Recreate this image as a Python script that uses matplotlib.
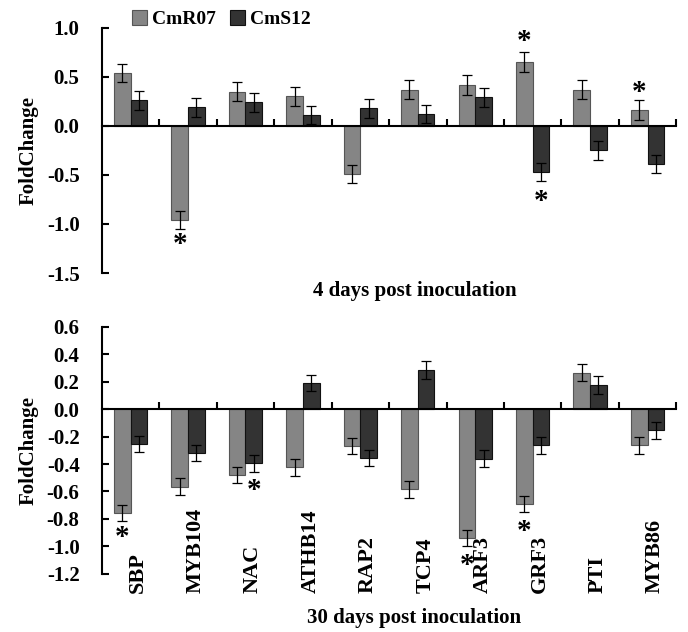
import matplotlib
matplotlib.use("Agg")
import matplotlib.pyplot as plt
import numpy as np

plt.rcParams["font.family"] = ["Liberation Serif", "DejaVu Serif"]
plt.rcParams["font.weight"] = "bold"
plt.rcParams["axes.unicode_minus"] = False

genes = ["SBP", "MYB104", "NAC", "ATHB14", "RAP2", "TCP4", "ARF3", "GRF3", "PTI", "MYB86"]

# 4 days post inoculation
r07_4d = [0.54, -0.96, 0.35, 0.30, -0.49, 0.37, 0.42, 0.65, 0.37, 0.165]
r07_4d_err = [0.095, 0.095, 0.10, 0.095, 0.095, 0.095, 0.10, 0.10, 0.095, 0.10]
s12_4d = [0.26, 0.19, 0.24, 0.11, 0.18, 0.12, 0.29, -0.47, -0.25, -0.39]
s12_4d_err = [0.095, 0.095, 0.10, 0.095, 0.095, 0.095, 0.095, 0.095, 0.095, 0.095]
stars_4d = [(1, "CmR07", -1.163), (7, "CmR07", 0.91), (7, "CmS12", -0.72), (9, "CmR07", 0.395)]

# 30 days post inoculation
r07_30d = [-0.755, -0.565, -0.48, -0.425, -0.27, -0.585, -0.94, -0.69, 0.265, -0.265]
r07_30d_err = [0.06, 0.06, 0.06, 0.06, 0.06, 0.06, 0.06, 0.06, 0.063, 0.06]
s12_30d = [-0.255, -0.32, -0.395, 0.19, -0.355, 0.285, -0.36, -0.265, 0.175, -0.155]
s12_30d_err = [0.06, 0.06, 0.06, 0.06, 0.06, 0.065, 0.06, 0.06, 0.065, 0.06]
stars_30d = [(0, "CmR07", -0.90), (2, "CmS12", -0.553), (6, "CmR07", -1.10), (7, "CmR07", -0.858)]

c_r07 = "#858585"
c_s12 = "#333333"
bw = 0.29
x = np.arange(len(genes)) + 0.5
offs = {"CmR07": -bw / 2, "CmS12": bw / 2}

fig = plt.figure(figsize=(6.88, 6.32), dpi=100)
ax1 = fig.add_axes([0.148, 0.568, 0.835, 0.388])
ax2 = fig.add_axes([0.148, 0.092, 0.835, 0.391])


def draw(ax, r07, r07_err, s12, s12_err, stars, ylim, yticks, xlabel, xlabel_y):
    ekw = dict(ecolor="black", elinewidth=0.9, capsize=3.5, capthick=0.9)
    b1 = ax.bar(x + offs["CmR07"], r07, bw, yerr=r07_err, color=c_r07,
                edgecolor="#555555", linewidth=0.8, error_kw=ekw, label="CmR07")
    b2 = ax.bar(x + offs["CmS12"], s12, bw, yerr=s12_err, color=c_s12,
                edgecolor="#111111", linewidth=0.8, error_kw=ekw, label="CmS12")
    # asterisk glyph sits high in its box, so nudge the text down a few pixels
    for i, who, yv in stars:
        ax.annotate("*", (x[i] + offs[who], yv), xytext=(0, -5), textcoords="offset pixels",
                    ha="center", va="center", fontsize=21, fontweight="bold")
    ax.set_xlim(0, len(genes))
    ax.set_ylim(*ylim)
    ax.set_yticks(yticks)
    ax.set_yticklabels([f"{round(t, 1) + 0.0:.1f}" for t in yticks], fontsize=15, fontweight="bold")
    ax.spines["top"].set_visible(False)
    ax.spines["right"].set_visible(False)
    ax.spines["bottom"].set_position(("data", 0))
    ax.spines["left"].set_linewidth(1.5)
    ax.spines["bottom"].set_linewidth(1.5)
    ax.set_xticks(np.arange(1, len(genes) + 1))
    ax.set_xticklabels([])
    ax.tick_params(axis="x", direction="in", length=5, width=1.5)
    ax.tick_params(axis="y", direction="in", length=5, width=1.5, pad=16)
    ax.set_ylabel("FoldChange", fontsize=15, fontweight="bold", labelpad=6)
    ax.text(0.544, xlabel_y, xlabel, transform=ax.transAxes,
            ha="center", va="center", fontsize=15, fontweight="bold")
    return b1, b2


b1, b2 = draw(ax1, r07_4d, r07_4d_err, s12_4d, s12_4d_err, stars_4d,
              (-1.5, 1.0), np.arange(-1.5, 1.01, 0.5), "4 days post inoculation", -0.075)
draw(ax2, r07_30d, r07_30d_err, s12_30d, s12_30d_err, stars_30d,
     (-1.2, 0.6), np.arange(-1.2, 0.61, 0.2), "30 days post inoculation", -0.18)

for xi, g in zip(x, genes):
    ax2.text(xi + 0.13, -0.077, g, transform=ax2.get_xaxis_transform(), rotation=90,
             ha="center", va="bottom", fontsize=16, fontweight="bold")

fig.legend([b1, b2], ["CmR07", "CmS12"], loc="upper left", bbox_to_anchor=(0.166, 1.012),
           ncol=2, frameon=False, handlelength=0.8, handleheight=0.8,
           handletextpad=0.25, columnspacing=0.7, prop={"weight": "bold", "size": 14})

fig.savefig("out.png", dpi=100)
